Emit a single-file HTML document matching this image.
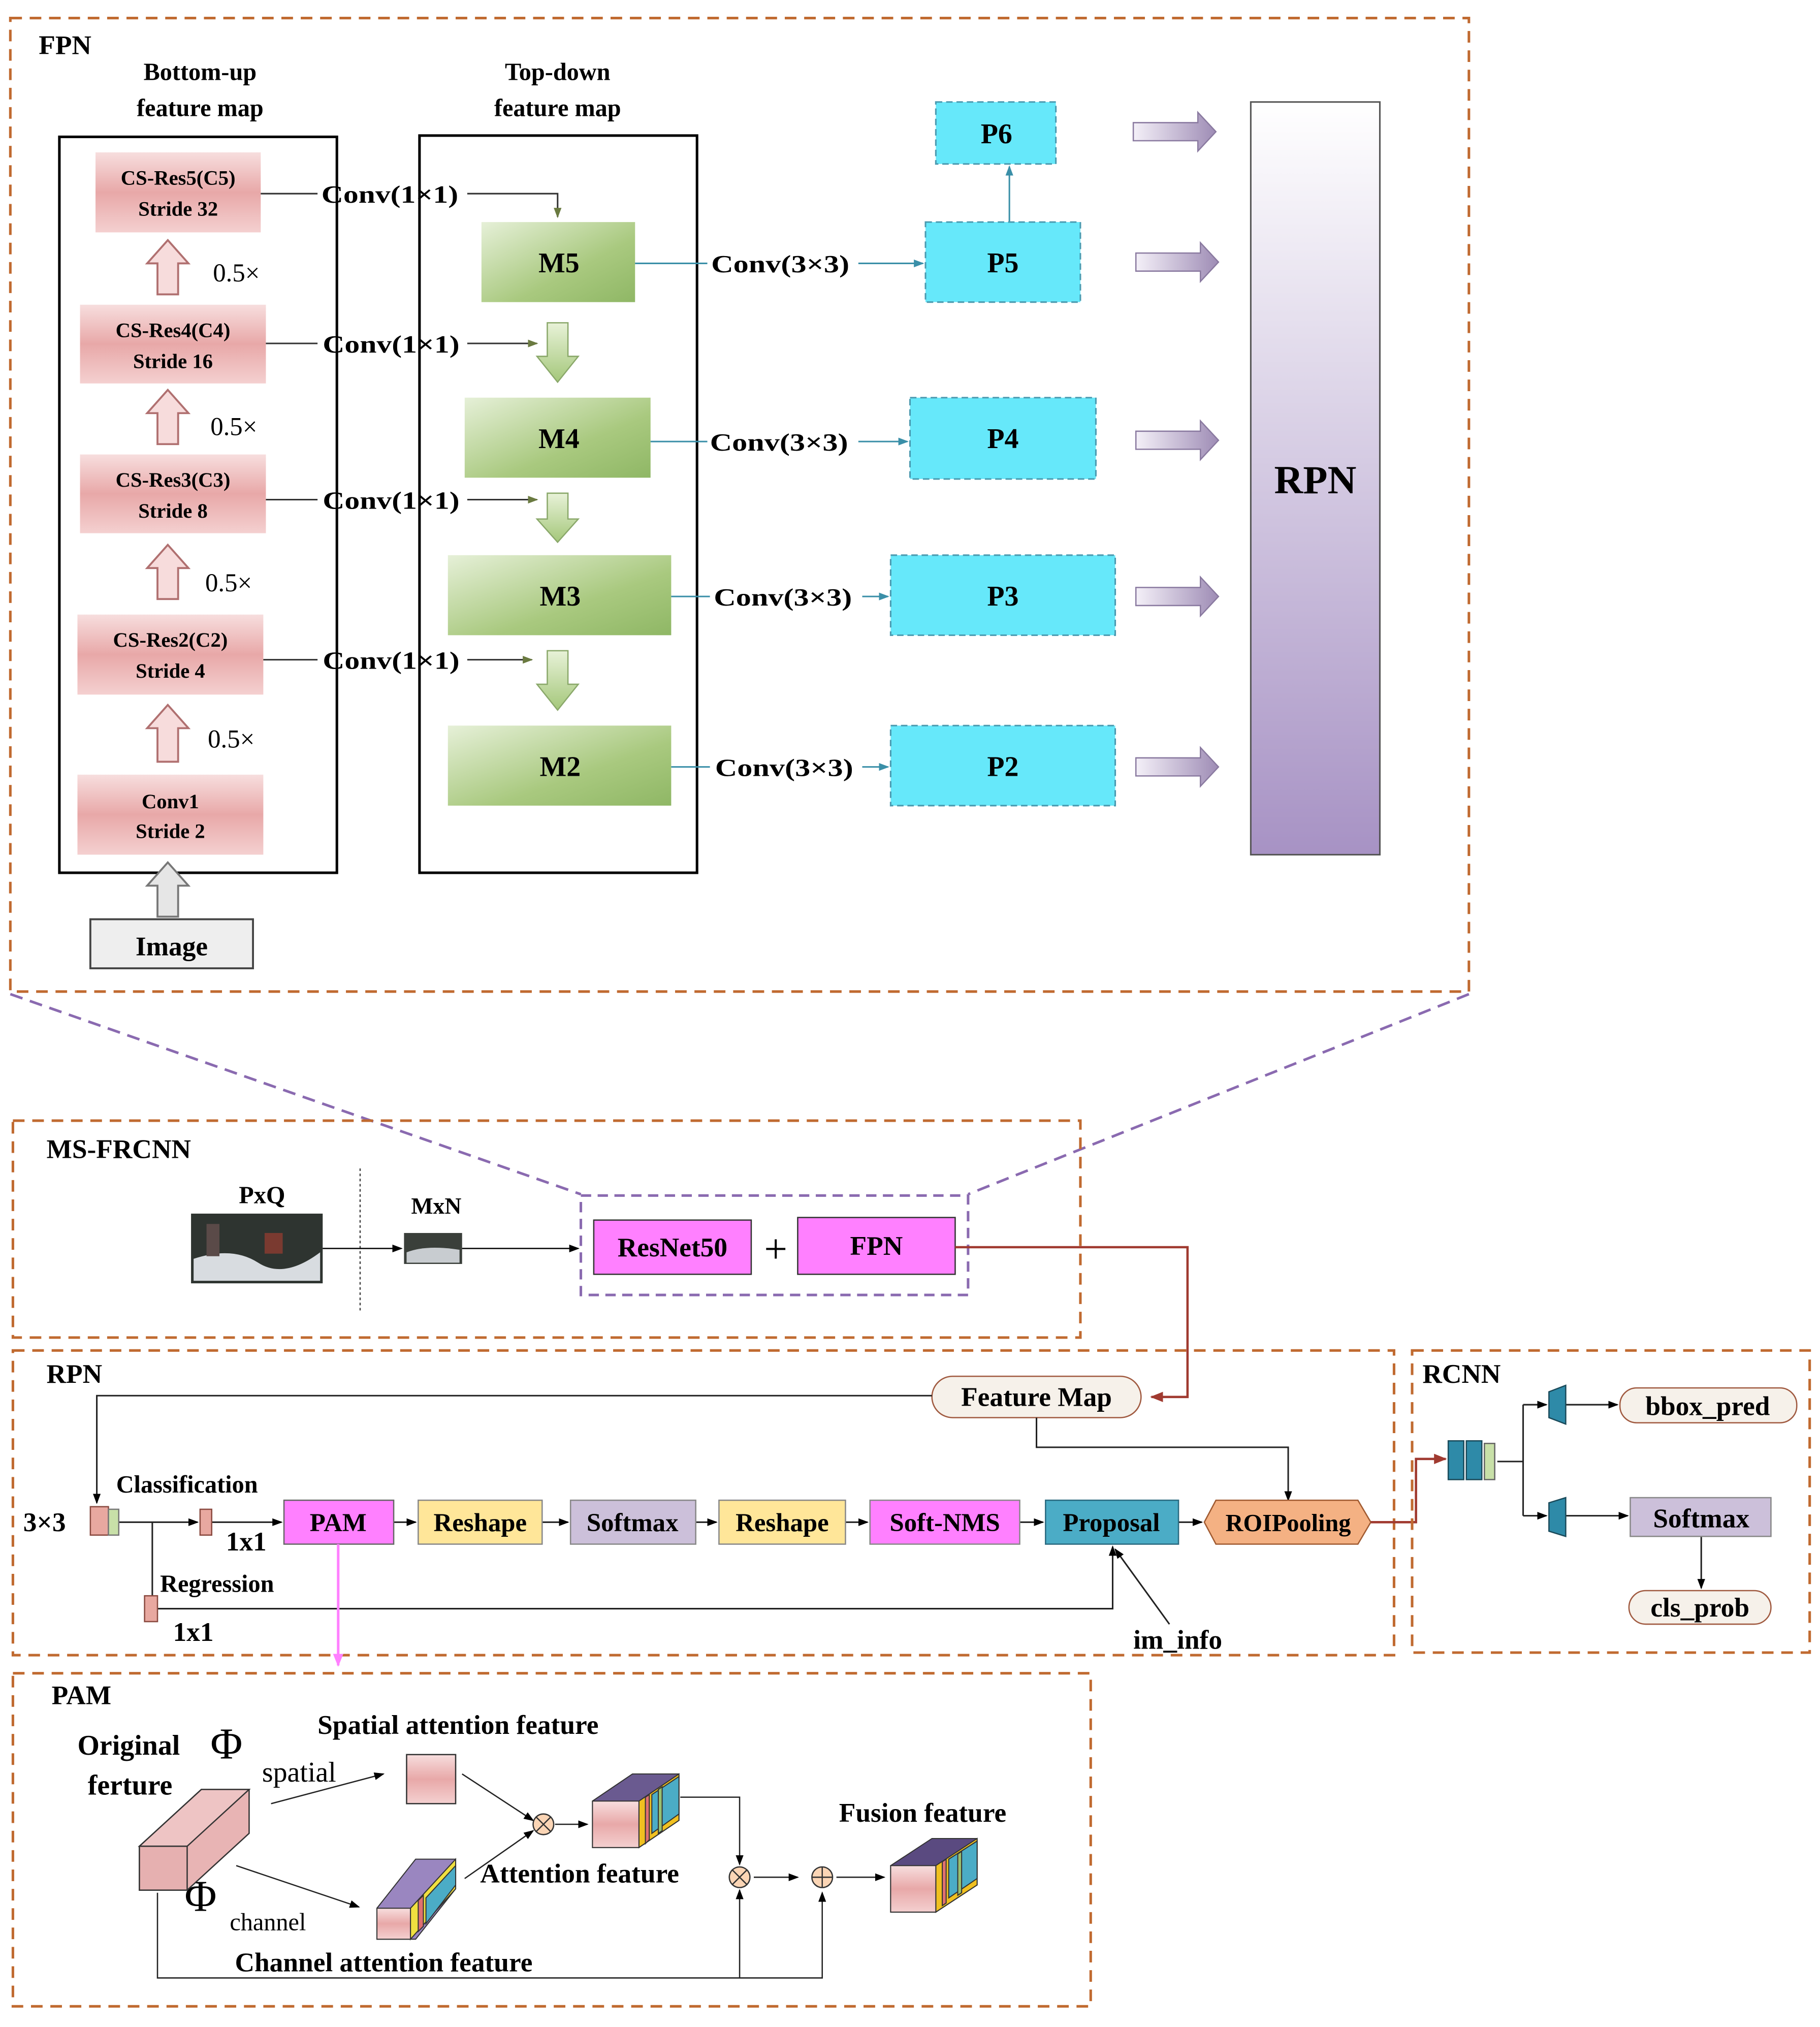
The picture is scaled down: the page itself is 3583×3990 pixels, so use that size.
<!DOCTYPE html>
<html><head><meta charset="utf-8"><style>
html,body{margin:0;padding:0;background:#fff;}
svg{display:block;}
text{font-family:"Liberation Serif",serif;font-weight:bold;fill:#000;}
</style></head><body>
<svg width="3583" height="3990" viewBox="0 0 1410 1570" preserveAspectRatio="none" xmlns="http://www.w3.org/2000/svg">
<defs>
<linearGradient id="pk" x1="0" y1="0" x2="0" y2="1"><stop offset="0" stop-color="#f7dede"/><stop offset="0.5" stop-color="#e8a8a8"/><stop offset="1" stop-color="#f4d0d0"/></linearGradient>
<linearGradient id="gr" x1="0" y1="0" x2="1" y2="1"><stop offset="0" stop-color="#e6f0d8"/><stop offset="0.6" stop-color="#a9c97f"/><stop offset="1" stop-color="#8fb765"/></linearGradient>
<linearGradient id="rp" x1="0" y1="0" x2="0" y2="1"><stop offset="0" stop-color="#ffffff"/><stop offset="1" stop-color="#a792c4"/></linearGradient>
<linearGradient id="fa" x1="0" y1="0" x2="1" y2="0"><stop offset="0" stop-color="#f4f0f8"/><stop offset="1" stop-color="#9e8cb5"/></linearGradient>
<linearGradient id="ga" x1="0" y1="0" x2="0" y2="1"><stop offset="0" stop-color="#e8f2d8"/><stop offset="1" stop-color="#a4c77a"/></linearGradient>
<marker id="ab" markerWidth="8" markerHeight="8" refX="7" refY="4" orient="auto" markerUnits="userSpaceOnUse"><path d="M0,1 L8,4 L0,7z" fill="#000"/></marker>
<marker id="at" markerWidth="8" markerHeight="8" refX="7" refY="4" orient="auto" markerUnits="userSpaceOnUse"><path d="M0,1 L8,4 L0,7z" fill="#3a8fa8"/></marker>
<marker id="ag" markerWidth="8" markerHeight="8" refX="7" refY="4" orient="auto" markerUnits="userSpaceOnUse"><path d="M0,1 L8,4 L0,7z" fill="#6a7a40"/></marker>
<marker id="ar" markerWidth="10" markerHeight="10" refX="9" refY="5" orient="auto" markerUnits="userSpaceOnUse"><path d="M0,1 L10,5 L0,9z" fill="#a03a30"/></marker>
<marker id="ap" markerWidth="10" markerHeight="10" refX="9" refY="5" orient="auto" markerUnits="userSpaceOnUse"><path d="M0,1 L10,5 L0,9z" fill="#ff80ff"/></marker>
</defs>

<!-- FPN -->
<rect x="8" y="14" width="1130" height="754" fill="none" stroke="#c06a30" stroke-width="2" stroke-dasharray="9,6"/>
<text x="30" y="42" font-size="21">FPN</text>
<text x="155" y="62" font-size="19" text-anchor="middle">Bottom-up</text>
<text x="155" y="90" font-size="19" text-anchor="middle">feature map</text>
<text x="432" y="62" font-size="19" text-anchor="middle">Top-down</text>
<text x="432" y="90" font-size="19" text-anchor="middle">feature map</text>
<rect x="46" y="106" width="215" height="570" fill="none" stroke="#000" stroke-width="2"/>
<rect x="325" y="105" width="215" height="571" fill="none" stroke="#000" stroke-width="2"/>

<g font-size="16">
<rect x="74" y="118" width="128" height="62" fill="url(#pk)"/>
<text x="138" y="143" text-anchor="middle" font-size="16">CS-Res5(C5)</text><text x="138" y="167" text-anchor="middle" font-size="16">Stride 32</text>
<rect x="62" y="236" width="144" height="61" fill="url(#pk)"/>
<text x="134" y="261" text-anchor="middle" font-size="16">CS-Res4(C4)</text><text x="134" y="285" text-anchor="middle" font-size="16">Stride 16</text>
<rect x="62" y="352" width="144" height="61" fill="url(#pk)"/>
<text x="134" y="377" text-anchor="middle" font-size="16">CS-Res3(C3)</text><text x="134" y="401" text-anchor="middle" font-size="16">Stride 8</text>
<rect x="60" y="476" width="144" height="62" fill="url(#pk)"/>
<text x="132" y="501" text-anchor="middle" font-size="16">CS-Res2(C2)</text><text x="132" y="525" text-anchor="middle" font-size="16">Stride 4</text>
<rect x="60" y="600" width="144" height="62" fill="url(#pk)"/>
<text x="132" y="626" text-anchor="middle" font-size="16">Conv1</text><text x="132" y="649" text-anchor="middle" font-size="16">Stride 2</text>
</g>
<g fill="#f7dcdc" stroke="#b07070" stroke-width="1.5">
<path d="M130,186 L146,204 L138,204 L138,228 L122,228 L122,204 L114,204z"/>
<path d="M130,302 L146,320 L138,320 L138,344 L122,344 L122,320 L114,320z"/>
<path d="M130,422 L146,440 L138,440 L138,464 L122,464 L122,440 L114,440z"/>
<path d="M130,546 L146,564 L138,564 L138,590 L122,590 L122,564 L114,564z"/>
</g>
<path d="M130,668 L146,686 L138,686 L138,710 L122,710 L122,686 L114,686z" fill="#e6e6e6" stroke="#777" stroke-width="1.5"/>
<g font-size="20"><text x="165" y="218" style="font-weight:normal">0.5×</text><text x="163" y="337" style="font-weight:normal">0.5×</text><text x="159" y="458" style="font-weight:normal">0.5×</text><text x="161" y="579" style="font-weight:normal">0.5×</text></g>
<rect x="70" y="712" width="126" height="38" fill="#eeeeee" stroke="#444" stroke-width="1.5"/>
<text x="133" y="740" font-size="21" text-anchor="middle">Image</text>

<g stroke="#333" stroke-width="1.2" fill="none">
<line x1="202" y1="150" x2="246" y2="150"/><polyline points="362,150 432,150 432,168" marker-end="url(#ag)"/>
<line x1="206" y1="266" x2="246" y2="266"/><line x1="362" y1="266" x2="416" y2="266" marker-end="url(#ag)"/>
<line x1="206" y1="387" x2="246" y2="387"/><line x1="362" y1="387" x2="416" y2="387" marker-end="url(#ag)"/>
<line x1="204" y1="511" x2="246" y2="511"/><line x1="362" y1="511" x2="412" y2="511" marker-end="url(#ag)"/>
</g>
<g font-size="19"><text x="249" y="157" textLength="106" lengthAdjust="spacingAndGlyphs">Conv(1×1)</text><text x="250" y="273" textLength="106" lengthAdjust="spacingAndGlyphs">Conv(1×1)</text><text x="250" y="394" textLength="106" lengthAdjust="spacingAndGlyphs">Conv(1×1)</text><text x="250" y="518" textLength="106" lengthAdjust="spacingAndGlyphs">Conv(1×1)</text></g>

<rect x="373" y="172" width="119" height="62" fill="url(#gr)"/><text x="433" y="211" font-size="22" text-anchor="middle">M5</text>
<rect x="360" y="308" width="144" height="62" fill="url(#gr)"/><text x="433" y="347" font-size="22" text-anchor="middle">M4</text>
<rect x="347" y="430" width="173" height="62" fill="url(#gr)"/><text x="434" y="469" font-size="22" text-anchor="middle">M3</text>
<rect x="347" y="562" width="173" height="62" fill="url(#gr)"/><text x="434" y="601" font-size="22" text-anchor="middle">M2</text>
<g fill="url(#ga)" stroke="#8aa86a" stroke-width="1">
<path d="M424,250 L440,250 L440,276 L448,276 L432,296 L416,276 L424,276z"/>
<path d="M424,382 L440,382 L440,402 L448,402 L432,420 L416,402 L424,402z"/>
<path d="M424,504 L440,504 L440,530 L448,530 L432,550 L416,530 L424,530z"/>
</g>

<g stroke="#3a8fa8" stroke-width="1.2" fill="none">
<line x1="492" y1="204" x2="548" y2="204"/><line x1="665" y1="204" x2="715" y2="204" marker-end="url(#at)"/>
<line x1="504" y1="342" x2="548" y2="342"/><line x1="665" y1="342" x2="703" y2="342" marker-end="url(#at)"/>
<line x1="520" y1="462" x2="550" y2="462"/><line x1="668" y1="462" x2="688" y2="462" marker-end="url(#at)"/>
<line x1="520" y1="594" x2="550" y2="594"/><line x1="668" y1="594" x2="688" y2="594" marker-end="url(#at)"/>
<line x1="782" y1="172" x2="782" y2="129" marker-end="url(#at)"/>
</g>
<g font-size="19"><text x="551" y="211" textLength="107" lengthAdjust="spacingAndGlyphs">Conv(3×3)</text><text x="550" y="349" textLength="107" lengthAdjust="spacingAndGlyphs">Conv(3×3)</text><text x="553" y="469" textLength="107" lengthAdjust="spacingAndGlyphs">Conv(3×3)</text><text x="554" y="601" textLength="107" lengthAdjust="spacingAndGlyphs">Conv(3×3)</text></g>

<g fill="#66e8fa" stroke="#4a9ab0" stroke-width="1.2" stroke-dasharray="5,3">
<rect x="725" y="79" width="93" height="48"/><rect x="717" y="172" width="120" height="62"/><rect x="705" y="308" width="144" height="63"/><rect x="690" y="430" width="174" height="62"/><rect x="690" y="562" width="174" height="62"/>
</g>
<g font-size="22"><text x="772" y="111" text-anchor="middle">P6</text><text x="777" y="211" text-anchor="middle">P5</text><text x="777" y="347" text-anchor="middle">P4</text><text x="777" y="469" text-anchor="middle">P3</text><text x="777" y="601" text-anchor="middle">P2</text></g>

<g fill="url(#fa)" stroke="#8a7aa0" stroke-width="1">
<path d="M878,95 L928,95 L928,87 L942,102 L928,117 L928,109 L878,109z"/>
<path d="M880,196 L930,196 L930,188 L944,203 L930,218 L930,210 L880,210z"/>
<path d="M880,334 L930,334 L930,326 L944,341 L930,356 L930,348 L880,348z"/>
<path d="M880,455 L930,455 L930,447 L944,462 L930,477 L930,469 L880,469z"/>
<path d="M880,587 L930,587 L930,579 L944,594 L930,609 L930,601 L880,601z"/>
</g>
<rect x="969" y="79" width="100" height="583" fill="url(#rp)" stroke="#555" stroke-width="1.2"/>
<text x="1019" y="382" font-size="31" text-anchor="middle">RPN</text>

<line x1="8" y1="770" x2="450" y2="925" stroke="#8a6ab0" stroke-width="2" stroke-dasharray="10,6"/>
<line x1="1138" y1="770" x2="750" y2="925" stroke="#8a6ab0" stroke-width="2" stroke-dasharray="10,6"/>

<!-- MS-FRCNN -->
<rect x="10" y="868" width="827" height="168" fill="none" stroke="#c06a30" stroke-width="2" stroke-dasharray="9,6"/>
<text x="36" y="897" font-size="21">MS-FRCNN</text>
<text x="203" y="932" font-size="19" text-anchor="middle">PxQ</text>
<rect x="148" y="940" width="102" height="54" fill="#2e3430"/>
<path d="M150,975 Q180,965 200,978 T248,970 L248,992 L150,992z" fill="#d8dce0"/>
<rect x="160" y="948" width="10" height="25" fill="#5a4a48"/><rect x="205" y="955" width="14" height="16" fill="#7a3a30"/>
<line x1="279" y1="905" x2="279" y2="1015" stroke="#444" stroke-width="1" stroke-dasharray="2,2"/>
<text x="338" y="940" font-size="18" text-anchor="middle">MxN</text>
<rect x="313" y="955" width="45" height="24" fill="#3a3f3a"/><path d="M315,970 Q330,964 356,968 L356,978 L315,978z" fill="#c8ccd0"/>
<line x1="250" y1="967" x2="311" y2="967" stroke="#000" marker-end="url(#ab)"/>
<line x1="358" y1="967" x2="448" y2="967" stroke="#000" marker-end="url(#ab)"/>
<rect x="450" y="926" width="300" height="77" fill="none" stroke="#8a6ab0" stroke-width="2" stroke-dasharray="8,5"/>
<rect x="460" y="945" width="122" height="42" fill="#ff80ff" stroke="#333"/><text x="521" y="973" font-size="21" text-anchor="middle">ResNet50</text>
<text x="601" y="978" font-size="32" text-anchor="middle" style="font-weight:normal">+</text>
<rect x="618" y="943" width="122" height="44" fill="#ff80ff" stroke="#333"/><text x="679" y="972" font-size="21" text-anchor="middle">FPN</text>
<polyline points="740,966 920,966 920,1082 892,1082" fill="none" stroke="#a03a30" stroke-width="1.8" marker-end="url(#ar)"/>

<!-- RPN -->
<rect x="10" y="1046" width="1070" height="236" fill="none" stroke="#c06a30" stroke-width="2" stroke-dasharray="9,6"/>
<text x="36" y="1071" font-size="21">RPN</text>
<rect x="722" y="1066" width="162" height="32" rx="16" fill="#f6f1ea" stroke="#a05a40"/>
<text x="803" y="1089" font-size="21" text-anchor="middle">Feature Map</text>
<g stroke="#222" stroke-width="1.2" fill="none">
<polyline points="722,1081 75,1081 75,1164" marker-end="url(#ab)"/>
<polyline points="803,1098 803,1121 998,1121 998,1162" marker-end="url(#ab)"/>
<line x1="92" y1="1179" x2="153" y2="1179" marker-end="url(#ab)"/>
<line x1="164" y1="1179" x2="218" y2="1179" marker-end="url(#ab)"/>
<polyline points="118,1179 118,1236"/>
<line x1="305" y1="1179" x2="322" y2="1179" marker-end="url(#ab)"/>
<line x1="420" y1="1179" x2="440" y2="1179" marker-end="url(#ab)"/>
<line x1="539" y1="1179" x2="555" y2="1179" marker-end="url(#ab)"/>
<line x1="655" y1="1179" x2="672" y2="1179" marker-end="url(#ab)"/>
<line x1="790" y1="1179" x2="808" y2="1179" marker-end="url(#ab)"/>
<line x1="913" y1="1179" x2="931" y2="1179" marker-end="url(#ab)"/>
<polyline points="122,1246 862,1246 862,1198" marker-end="url(#ab)"/>
<line x1="906" y1="1258" x2="864" y2="1200" marker-end="url(#ab)"/>
</g>
<text x="18" y="1186" font-size="21">3×3</text>
<rect x="70" y="1167" width="14" height="22" fill="#e8a8a0" stroke="#8a4a40"/><rect x="84" y="1169" width="8" height="20" fill="#c8e0a8" stroke="#777"/>
<rect x="155" y="1169" width="9" height="20" fill="#e8a8a0" stroke="#8a4a40"/>
<rect x="112" y="1236" width="10" height="20" fill="#e8a8a0" stroke="#8a4a40"/>
<text x="90" y="1156" font-size="19">Classification</text>
<text x="175" y="1201" font-size="21">1x1</text>
<text x="124" y="1233" font-size="19">Regression</text>
<text x="134" y="1271" font-size="21">1x1</text>
<text x="878" y="1277" font-size="21">im_info</text>
<rect x="220" y="1162" width="85" height="34" fill="#ff80ff" stroke="#666"/><text x="262" y="1186" font-size="20" text-anchor="middle">PAM</text>
<rect x="324" y="1162" width="96" height="34" fill="#ffe699" stroke="#888"/><text x="372" y="1186" font-size="20" text-anchor="middle">Reshape</text>
<rect x="442" y="1162" width="97" height="34" fill="#ccc0da" stroke="#888"/><text x="490" y="1186" font-size="20" text-anchor="middle">Softmax</text>
<rect x="557" y="1162" width="98" height="34" fill="#ffe699" stroke="#888"/><text x="606" y="1186" font-size="20" text-anchor="middle">Reshape</text>
<rect x="674" y="1162" width="116" height="34" fill="#ff80ff" stroke="#888"/><text x="732" y="1186" font-size="20" text-anchor="middle">Soft-NMS</text>
<rect x="810" y="1162" width="103" height="34" fill="#4bacc6" stroke="#2a6a80"/><text x="861" y="1186" font-size="20" text-anchor="middle">Proposal</text>
<path d="M942,1162 L1052,1162 L1062,1179 L1052,1196 L942,1196 L933,1179z" fill="#f4b183" stroke="#a05a30"/>
<text x="998" y="1186" font-size="19" text-anchor="middle">ROIPooling</text>
<line x1="262" y1="1196" x2="262" y2="1290" stroke="#ff80ff" stroke-width="2" marker-end="url(#ap)"/>
<polyline points="1062,1179 1097,1179 1097,1130 1120,1130" fill="none" stroke="#a03a30" stroke-width="1.8" marker-end="url(#ar)"/>

<!-- RCNN -->
<rect x="1094" y="1046" width="308" height="234" fill="none" stroke="#c06a30" stroke-width="2" stroke-dasharray="9,6"/>
<text x="1102" y="1071" font-size="21">RCNN</text>
<rect x="1122" y="1116" width="12" height="30" fill="#2e8aa8" stroke="#1a4a5a"/><rect x="1136" y="1116" width="12" height="30" fill="#2e8aa8" stroke="#1a4a5a"/><rect x="1150" y="1118" width="8" height="28" fill="#c8e0a8" stroke="#666"/>
<g stroke="#222" stroke-width="1.2" fill="none">
<line x1="1160" y1="1132" x2="1180" y2="1132"/>
<polyline points="1180,1088 1180,1174"/>
<line x1="1180" y1="1088" x2="1198" y2="1088" marker-end="url(#ab)"/>
<line x1="1180" y1="1174" x2="1198" y2="1174" marker-end="url(#ab)"/>
<line x1="1213" y1="1088" x2="1253" y2="1088" marker-end="url(#ab)"/>
<line x1="1213" y1="1174" x2="1261" y2="1174" marker-end="url(#ab)"/>
<line x1="1318" y1="1190" x2="1318" y2="1230" marker-end="url(#ab)"/>
</g>
<path d="M1200,1078 L1213,1073 L1213,1103 L1200,1098z" fill="#2e8aa8" stroke="#1a4a5a"/>
<path d="M1200,1164 L1213,1160 L1213,1190 L1200,1186z" fill="#2e8aa8" stroke="#1a4a5a"/>
<rect x="1255" y="1075" width="137" height="27" rx="13" fill="#f6f1ea" stroke="#a05a40"/><text x="1323" y="1096" font-size="21" text-anchor="middle">bbox_pred</text>
<rect x="1263" y="1160" width="109" height="30" fill="#ccc0da" stroke="#888"/><text x="1318" y="1183" font-size="21" text-anchor="middle">Softmax</text>
<rect x="1262" y="1232" width="110" height="26" rx="13" fill="#f6f1ea" stroke="#a05a40"/><text x="1317" y="1252" font-size="21" text-anchor="middle">cls_prob</text>

<!-- PAM -->
<rect x="10" y="1296" width="835" height="258" fill="none" stroke="#c06a30" stroke-width="2" stroke-dasharray="9,6"/>
<text x="40" y="1320" font-size="21">PAM</text>
<text x="246" y="1343" font-size="21">Spatial attention feature</text>
<text x="60" y="1359" font-size="22">Original</text>
<text x="163" y="1362" font-size="34" style="font-weight:normal">Φ</text>
<text x="68" y="1390" font-size="22">ferture</text>
<text x="203" y="1380" font-size="22" style="font-weight:normal">spatial</text>
<text x="143" y="1480" font-size="34" style="font-weight:normal">Φ</text>
<text x="178" y="1495" font-size="19" style="font-weight:normal">channel</text>
<text x="372" y="1458" font-size="21">Attention feature</text>
<text x="182" y="1527" font-size="21">Channel attention feature</text>
<text x="650" y="1411" font-size="21">Fusion feature</text>
<path d="M108,1430 L156,1386 L193,1386 L193,1420 L145,1464 L108,1464z" fill="#e8b4b4" stroke="#333"/>
<path d="M108,1430 L156,1386 L193,1386 L145,1430z" fill="#eec4c4" stroke="#333"/>
<rect x="108" y="1430" width="37" height="34" fill="#e6b0b0" stroke="#333"/>
<rect x="315" y="1359" width="38" height="38" fill="url(#pk)" stroke="#333"/>
<g stroke="#222" stroke-width="1" fill="none">
<line x1="210" y1="1397" x2="297" y2="1374" marker-end="url(#ab)"/>
<line x1="183" y1="1445" x2="278" y2="1477" marker-end="url(#ab)"/>
<line x1="358" y1="1374" x2="413" y2="1410" marker-end="url(#ab)"/>
<line x1="360" y1="1455" x2="413" y2="1418" marker-end="url(#ab)"/>
<line x1="430" y1="1413" x2="455" y2="1413" marker-end="url(#ab)"/>
<polyline points="527,1392 573,1392 573,1444" marker-end="url(#ab)"/>
<line x1="584" y1="1454" x2="618" y2="1454" marker-end="url(#ab)"/>
<line x1="648" y1="1454" x2="685" y2="1454" marker-end="url(#ab)"/>
<polyline points="122,1466 122,1532 637,1532 637,1466" marker-end="url(#ab)"/>
<line x1="573" y1="1532" x2="573" y2="1464" marker-end="url(#ab)"/>
</g>
<circle cx="421" cy="1413" r="8" fill="#fbd5b5" stroke="#333"/><path d="M415,1407 L427,1419 M427,1407 L415,1419" stroke="#333"/>
<circle cx="573" cy="1454" r="8" fill="#fbd5b5" stroke="#333"/><path d="M567,1448 L579,1460 M579,1448 L567,1460" stroke="#333"/>
<circle cx="637" cy="1454" r="8" fill="#fbd5b5" stroke="#333"/><path d="M629,1454 L645,1454 M637,1446 L637,1462" stroke="#333"/>
<g stroke="#333" stroke-width="0.8">
<path d="M459,1395 L490,1374 L526,1374 L526,1410 L495,1431 L459,1431z" fill="#6a5a90"/>
<path d="M495,1395 L526,1374 L526,1410 L495,1431z" fill="#f0c020"/>
<path d="M505,1390 L526,1376 L526,1405 L505,1420z" fill="#4bacc6"/>
<path d="M500,1392 L503,1390 L503,1425 L500,1428z" fill="#e07070"/>
<path d="M510,1386 L513,1384 L513,1418 L510,1420z" fill="#9ac070"/>
<rect x="459" y="1395" width="36" height="36" fill="url(#pk)"/>
<path d="M292,1478 L322,1440 L353,1440 L353,1463 L322,1502 L292,1502z" fill="#9a86c0"/>
<path d="M318,1478 L353,1440 L353,1463 L318,1502z" fill="#f0e040"/>
<path d="M330,1470 L353,1445 L353,1460 L330,1490z" fill="#4bacc6"/>
<path d="M324,1472 L328,1468 L328,1492 L324,1496z" fill="#e07070"/>
<rect x="292" y="1478" width="26" height="24" fill="url(#pk)"/>
<path d="M690,1445 L722,1424 L757,1424 L757,1460 L725,1481 L690,1481z" fill="#5a4a80"/>
<path d="M725,1445 L757,1424 L757,1460 L725,1481z" fill="#f0c020"/>
<path d="M735,1440 L757,1426 L757,1455 L735,1470z" fill="#4bacc6"/>
<path d="M730,1442 L733,1440 L733,1474 L730,1476z" fill="#e07070"/>
<path d="M742,1436 L745,1434 L745,1466 L742,1468z" fill="#9ac070"/>
<rect x="690" y="1445" width="35" height="36" fill="url(#pk)"/>
</g>
</svg>
</body></html>
